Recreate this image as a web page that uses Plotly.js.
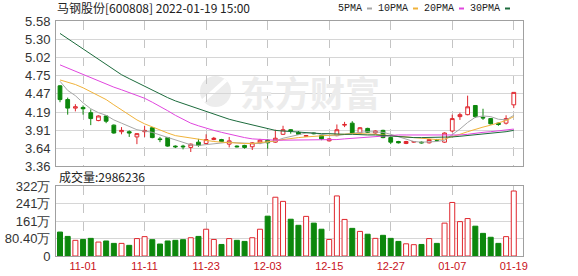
<!DOCTYPE html>
<html><head><meta charset="utf-8">
<script src="https://cdn.plot.ly/plotly-3.0.1.min.js"></script>
<style>html,body{margin:0;padding:0;background:#fff}#chart{width:578px;height:276px}</style>
</head><body><div id="chart"></div>
<script>
const dates = ["2021-10-27","2021-10-28","2021-10-29","2021-11-01","2021-11-02","2021-11-03","2021-11-04","2021-11-05",
"2021-11-08","2021-11-09","2021-11-10","2021-11-11","2021-11-12","2021-11-15","2021-11-16","2021-11-17","2021-11-18","2021-11-19",
"2021-11-22","2021-11-23","2021-11-24","2021-11-25","2021-11-26","2021-11-29","2021-11-30","2021-12-01","2021-12-02","2021-12-03",
"2021-12-06","2021-12-07","2021-12-08","2021-12-09","2021-12-10","2021-12-13","2021-12-14","2021-12-15","2021-12-16","2021-12-17",
"2021-12-20","2021-12-21","2021-12-22","2021-12-23","2021-12-24","2021-12-27","2021-12-28","2021-12-29","2021-12-30","2021-12-31",
"2022-01-04","2022-01-05","2022-01-06","2022-01-07","2022-01-10","2022-01-11","2022-01-12","2022-01-13","2022-01-14",
"2022-01-17","2022-01-18","2022-01-19"];
const openP  = [4.59,4.38,4.25,4.26,4.18,4.06,4.13,3.99,3.89,3.89,3.81,3.89,3.95,3.78,3.80,3.67,3.67,3.65,3.73,3.71,3.77,3.77,3.70,3.67,3.68,3.66,3.72,3.76,3.73,3.85,3.92,3.88,3.82,3.87,3.83,3.75,3.83,3.99,4.02,3.87,3.94,3.87,3.91,3.80,3.74,3.71,3.73,3.73,3.72,3.77,3.73,3.90,4.12,4.15,4.29,4.11,4.09,4.02,4.02,4.30];
const highP  = [4.60,4.41,4.31,4.29,4.23,4.14,4.14,4.00,3.96,3.91,3.87,3.98,3.96,3.81,3.81,3.68,3.69,3.71,3.78,3.85,3.81,3.78,3.81,3.68,3.69,3.73,3.78,3.78,3.92,3.98,3.93,3.90,3.84,3.88,3.84,3.79,4.00,4.04,4.05,3.96,3.95,3.91,3.92,3.81,3.75,3.75,3.74,3.74,3.78,3.78,3.88,4.15,4.18,4.44,4.29,4.24,4.10,4.03,4.14,4.49];
const lowP   = [4.34,4.15,4.20,4.15,3.99,4.05,4.02,3.86,3.85,3.81,3.70,3.81,3.79,3.73,3.66,3.64,3.62,3.58,3.66,3.70,3.76,3.73,3.65,3.65,3.63,3.61,3.70,3.63,3.72,3.84,3.86,3.84,3.81,3.85,3.76,3.74,3.82,3.96,3.86,3.86,3.87,3.86,3.79,3.70,3.71,3.70,3.72,3.71,3.71,3.74,3.72,3.88,4.07,4.14,4.10,4.07,4.00,3.98,4.00,4.25];
const closeP = [4.38,4.25,4.27,4.24,4.09,4.13,4.05,3.87,3.91,3.87,3.86,3.91,3.80,3.77,3.67,3.66,3.66,3.70,3.68,3.77,3.79,3.74,3.75,3.66,3.65,3.72,3.76,3.72,3.79,3.92,3.90,3.85,3.83,3.86,3.78,3.78,3.92,4.00,3.87,3.95,3.88,3.90,3.80,3.73,3.72,3.74,3.74,3.72,3.77,3.76,3.87,4.09,4.15,4.27,4.12,4.10,4.01,4.00,4.09,4.49];
const ma5  = [4.66,4.52,4.44,4.33,4.24,4.18,4.14,4.07,4.02,3.97,3.92,3.90,3.88,3.84,3.80,3.76,3.72,3.69,3.68,3.69,3.71,3.72,3.73,3.72,3.71,3.71,3.71,3.73,3.75,3.79,3.82,3.85,3.87,3.87,3.85,3.83,3.83,3.85,3.86,3.88,3.89,3.89,3.88,3.85,3.81,3.77,3.74,3.73,3.73,3.74,3.76,3.84,3.93,4.03,4.11,4.13,4.12,4.08,4.07,4.14];
const ma10 = [4.68,4.65,4.61,4.56,4.50,4.44,4.38,4.30,4.22,4.14,4.07,4.01,3.96,3.91,3.87,3.83,3.81,3.79,3.77,3.75,3.74,3.73,3.72,3.71,3.71,3.71,3.72,3.73,3.75,3.77,3.79,3.80,3.81,3.82,3.83,3.83,3.84,3.85,3.86,3.86,3.86,3.85,3.84,3.83,3.81,3.80,3.79,3.78,3.77,3.77,3.78,3.81,3.85,3.89,3.93,3.96,3.99,4.02,4.06,4.12];
const ma20 = [4.91,4.86,4.81,4.76,4.71,4.66,4.61,4.57,4.53,4.49,4.45,4.40,4.34,4.28,4.21,4.14,4.08,4.02,3.98,3.94,3.91,3.88,3.85,3.82,3.80,3.78,3.77,3.76,3.76,3.76,3.76,3.76,3.76,3.76,3.76,3.76,3.77,3.78,3.79,3.80,3.81,3.82,3.83,3.84,3.84,3.84,3.84,3.83,3.83,3.83,3.83,3.83,3.84,3.85,3.87,3.88,3.89,3.90,3.91,3.93];
const ma30 = [5.39,5.31,5.23,5.15,5.07,4.99,4.91,4.83,4.76,4.70,4.64,4.58,4.52,4.46,4.41,4.36,4.32,4.27,4.23,4.19,4.15,4.12,4.08,4.05,4.02,3.99,3.96,3.93,3.91,3.90,3.89,3.88,3.87,3.87,3.86,3.86,3.85,3.85,3.85,3.84,3.84,3.84,3.83,3.82,3.81,3.80,3.80,3.80,3.80,3.80,3.81,3.81,3.82,3.83,3.84,3.86,3.87,3.88,3.89,3.91];
// volume in 万
const volume = [110,90,72,76,81,64,69,58,58,49,80,89,75,55,69,72,75,84,90,123,76,53,80,72,67,84,123,183,270,251,169,141,182,151,123,76,276,168,127,113,100,81,95,81,67,56,52,53,80,58,151,246,158,172,137,104,86,58,89,298.6236];
const lastVolumeText = "2986236";
const tickDates = ["2021-11-01","2021-11-11","2021-11-23","2021-12-03","2021-12-15","2021-12-27","2022-01-07","2022-01-19"];
const tickLabels = ["11-01","11-11","11-23","12-03","12-15","12-27","01-07","01-19"];
const priceTicks = [3.36,3.64,3.91,4.19,4.47,4.75,5.02,5.30,5.58];
const priceTickText = ["3.36","3.64","3.91","4.19","4.47","4.75","5.02","5.30","5.58"];
const volTicks = [0,80.4,160.8,241.2,321.6];
const volTickText = ["0","80.40万","161万","241万","322万"];
const maNames = ["5PMA","10PMA","20PMA","30PMA"];

const RED = "#e0262d", GREEN = "#0c870c";
const maColors = ["#a6a6a6","#f0b23a","#e046de","#1c6b3c"];
const up = closeP.map((c,i)=> c >= openP[i]);

const W = 578, H = 276, L = 56, R = 55, T = 21, B = 20;
const PW = W - L - R, PH = H - T - B;
const px2x = x => (x - L) / PW;
const py2y = y => (H - B - y) / PH;

const traces = [];
[ma5, ma10, ma20, ma30].forEach((m, k) => {
  traces.push({type:"scatter", mode:"lines", x:dates, y:m, xaxis:"x", yaxis:"y",
    line:{color:maColors[k], width:1}, hoverinfo:"skip", showlegend:false});
});
traces.push({type:"candlestick", x:dates, open:openP, high:highP, low:lowP, close:closeP,
  xaxis:"x", yaxis:"y", showlegend:false, whiskerwidth:0,
  increasing:{line:{color:RED, width:1}, fillcolor:"#ffffff"},
  decreasing:{line:{color:GREEN, width:1}, fillcolor:GREEN}});
traces.push({type:"bar", x:dates, y:volume, xaxis:"x2", yaxis:"y2", showlegend:false,
  marker:{color: up.map(u => u ? "#ffffff" : GREEN), line:{color: up.map(u => u ? RED : GREEN), width:1}}});

const gridX = {type:"category", range:[-0.52, 60.2], tickmode:"array", tickvals:tickDates,
  showgrid:true, gridcolor:"#c4c4c4", griddash:"dash", gridwidth:1, zeroline:false,
  showline:true, linecolor:"#a0a0a0", linewidth:1, mirror:true, ticks:"", fixedrange:true,
  rangeslider:{visible:false}};

const annotations = [
  {xref:"paper", yref:"paper", x:px2x(57), y:py2y(176.5), xanchor:"left", yanchor:"middle",
   text:"成交量:" + lastVolumeText, showarrow:false, font:{family:"Noto Sans CJK SC", size:12, color:"#222"}},
  {xref:"paper", yref:"paper", x:px2x(310), y:py2y(91), xanchor:"center", yanchor:"middle",
   text:"<b>东方财富</b>", showarrow:false, font:{family:"Noto Sans CJK SC", size:35, color:"#ececec"}}
];
const legendEnds = [363, 409, 455, 501];
const shapes = [
  {type:"circle", layer:"below", xref:"paper", yref:"paper", x0:px2x(200), x1:px2x(231), y0:py2y(107), y1:py2y(76),
   fillcolor:"#ececec", line:{width:0}},
  {type:"line", layer:"below", xref:"paper", yref:"paper", x0:px2x(203), x1:px2x(226), y0:py2y(101), y1:py2y(80),
   line:{color:"#ffffff", width:4}}
];
maNames.forEach((n,k) => {
  annotations.push({xref:"paper", yref:"paper", x:px2x(legendEnds[k]+1), y:py2y(8.5), xanchor:"right", yanchor:"middle",
    text:n, showarrow:false, font:{family:"Liberation Mono", size:10, color:"#222"}});
  shapes.push({type:"rect", xref:"paper", yref:"paper", x0:px2x(legendEnds[k]+4), x1:px2x(legendEnds[k]+9),
    y0:py2y(9.5), y1:py2y(7.5), fillcolor:maColors[k], line:{width:0}});
});

const layout = {
  width:W, height:H, margin:{l:L, r:R, t:T, b:B, pad:0},
  paper_bgcolor:"#ffffff", plot_bgcolor:"rgba(0,0,0,0)", showlegend:false, dragmode:false,
  title:{text:"马钢股份[600808] 2022-01-19 15:00", xref:"container", yref:"container",
    x:57/W, xanchor:"left", y:1-8.5/H, yanchor:"middle", font:{family:"Noto Sans CJK SC", size:12, color:"#222"}},
  xaxis: Object.assign({}, gridX, {anchor:"y", showticklabels:false}),
  xaxis2: Object.assign({}, gridX, {anchor:"y2", matches:"x", showticklabels:true, ticktext:tickLabels,
    tickfont:{family:"Liberation Sans", size:11, color:"#c8101a"}}),
  yaxis: {domain:[py2y(166.4), 1], range:[3.36, 5.58], tickmode:"array", tickvals:priceTicks, ticktext:priceTickText,
    showgrid:true, gridcolor:"#d6d6d6", zeroline:false, showline:true, linecolor:"#a0a0a0", mirror:true, ticks:"",
    ticklabelstandoff:2, tickfont:{family:"Liberation Sans", size:13, color:"#333"}, fixedrange:true},
  yaxis2: {domain:[0, py2y(186)], range:[0, 321.6], tickmode:"array", tickvals:volTicks, ticktext:volTickText,
    showgrid:true, gridcolor:"#d6d6d6", zeroline:false, showline:true, linecolor:"#a0a0a0", mirror:true, ticks:"",
    ticklabelstandoff:2, tickfont:{family:"Liberation Sans", size:13, color:"#333"}, fixedrange:true},
  bargap:0.35,
  annotations:annotations, shapes:shapes
};
Plotly.newPlot("chart", traces, layout, {staticPlot:true, displayModeBar:false});
</script></body></html>
